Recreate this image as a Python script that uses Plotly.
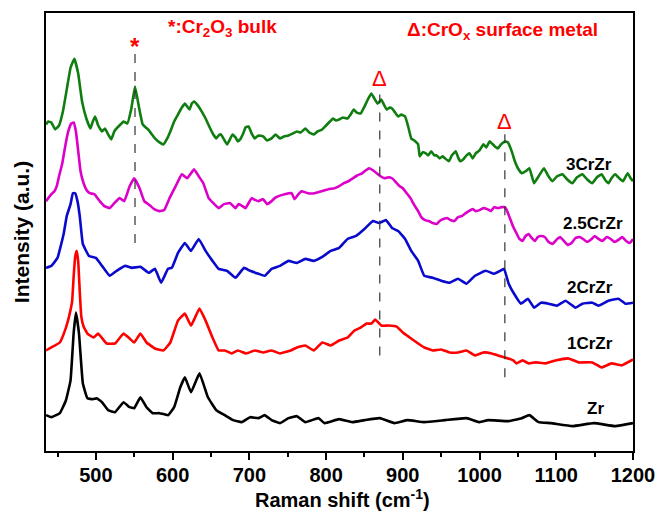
import plotly.graph_objects as go

# ---------------- data ----------------
# Raman shift (cm-1) and stacked intensity (a.u.) for each sample
zr_x = [435, 442, 453, 461, 467, 471, 474, 478, 483, 489, 496, 501, 508, 516, 525, 536, 544, 550, 558, 566,
        574, 583, 594, 602, 610, 616, 624, 635, 646, 657, 668, 679, 690, 701, 712, 720, 729, 740, 751, 762,
        773, 790, 798, 817, 834, 850, 870, 889, 906, 928, 955, 983, 1000, 1011, 1038, 1055, 1065, 1077,
        1093, 1121, 1149, 1177, 1200]
zr_y = [36, 34, 38, 51, 71, 118, 139, 118, 68, 53, 52, 53, 49, 41, 39, 49, 44, 43, 54, 44,
        38, 38, 36, 44, 64, 74, 59, 78, 54, 41, 36, 31, 29, 34, 33, 36, 31, 28, 33, 35,
        29, 33, 28, 32, 29, 31, 33, 28, 31, 29, 31, 33, 29, 31, 30, 33, 36, 29,
        28, 25, 28, 25, 28]

cr1_x = [435, 442, 453, 461, 465, 469, 471, 473, 475, 477, 479, 481, 484, 489, 497, 503, 514, 525, 536, 544,
         550, 558, 566, 577, 588, 597, 607, 616, 624, 635, 643, 652, 660, 668, 677, 685, 696, 707, 718, 729,
         740, 754, 762, 773, 784, 795, 806, 817, 828, 837, 845, 853, 859, 864, 872, 881, 892, 900, 909, 920,
         928, 939, 950, 961, 972, 983, 994, 1005, 1016, 1024, 1033, 1044, 1048, 1056, 1064, 1073, 1086,
         1099, 1116, 1129, 1147, 1159, 1172, 1185, 1200]
cr1_y = [101, 104, 109, 124, 135, 150, 175, 195, 201, 190, 160, 135, 125, 118, 114, 118, 108, 108, 118, 113,
         109, 118, 109, 103, 101, 109, 131, 138, 126, 143, 131, 114, 101, 101, 98, 101, 98, 101, 99, 101,
         98, 101, 104, 106, 101, 109, 106, 111, 114, 121, 124, 128, 128, 132, 126, 126, 125, 119, 114, 108,
         104, 101, 102, 99, 99, 101, 96, 99, 98, 96, 94, 91, 88, 91, 88, 89, 88,
         91, 93, 89, 89, 84, 88, 86, 92]

cr2_x = [435, 442, 450, 458, 462, 467, 470, 473, 476, 479, 483, 491, 500, 508, 518, 527, 538, 547, 558, 569,
         577, 585, 594, 599, 607, 616, 624, 634, 643, 652, 660, 671, 682, 693, 701, 712, 720, 729, 740, 751,
         762, 773, 784, 795, 806, 817, 828, 839, 850, 861, 869, 878, 886, 894, 903, 911, 920, 928, 939, 950,
         961, 972, 983, 994, 1008, 1019, 1027, 1032, 1038, 1045, 1054, 1063, 1071, 1080, 1090, 1101, 1112,
         1125, 1134, 1147, 1155, 1168, 1181, 1190, 1200]
cr2_y = [184, 186, 194, 218, 236, 248, 259, 259, 251, 236, 208, 196, 194, 186, 176, 181, 186, 184, 185, 179,
         183, 169, 183, 184, 199, 209, 201, 213, 201, 191, 183, 181, 174, 184, 181, 178, 176, 183, 186, 191,
         189, 193, 191, 195, 201, 204, 213, 216, 223, 231, 229, 232, 224, 221, 213, 201, 191, 176, 174, 171,
         169, 173, 168, 176, 181, 178, 181, 183, 168, 158, 148, 153, 144, 149, 148, 146, 151,
         144, 148, 149, 146, 151, 153, 148, 149]

cr25_x = [435, 438, 442, 446, 449, 452, 456, 460, 464, 468, 471, 474, 477, 480, 484, 488, 492, 498, 505, 511,
          518, 524, 531, 537, 544, 550, 557, 563, 570, 576, 583, 589, 596, 604, 612, 619, 628, 634, 640, 647,
          653, 660, 667, 675, 682, 686, 691, 695, 703, 708, 712, 718, 723, 729, 733, 738, 746, 755, 759, 764,
          768, 776, 785, 794, 803, 811, 817, 823, 829, 835, 841, 847, 852, 856, 861, 866, 871, 876, 881, 886,
          891, 896, 900, 905, 910, 915, 920, 924, 929, 934, 939, 944, 948, 953, 958, 962, 967, 972, 977, 982,
          986, 991, 995, 1000, 1005, 1010, 1015, 1019, 1024, 1029, 1033, 1036, 1040, 1044, 1048, 1052, 1056,
          1060, 1064, 1068, 1072, 1076, 1080, 1085, 1090, 1095, 1100, 1105, 1110, 1115, 1120, 1125, 1130,
          1135, 1140, 1146, 1150, 1155, 1160, 1166, 1171, 1176, 1181, 1186, 1191, 1196, 1200]
cr25_y = [251, 254, 258, 261, 266, 276, 288, 306, 321, 329, 330, 321, 301, 281, 269, 262, 259, 258, 251, 246,
          244, 249, 254, 251, 266, 274, 264, 251, 247, 243, 241, 242, 254, 266, 278, 274, 283, 276, 269, 254,
          249, 244, 248, 249, 244, 248, 246, 244, 254, 252, 251, 253, 248, 251, 254, 256, 258, 259, 253, 258,
          261, 259, 259, 261, 263, 264, 266, 269, 271, 274, 277, 279, 282, 284, 282, 279, 276, 274, 275, 274,
          270, 266, 264, 259, 254, 247, 241, 235, 232, 231, 229, 228, 231, 233, 234, 232, 231, 235, 236, 239,
          241, 243, 241, 242, 244, 243, 241, 245, 244, 245, 245, 241, 233, 225, 219, 213, 211,
          216, 218, 214, 211, 215, 216, 215, 210, 208, 212, 215, 211, 207, 209, 214, 215,
          213, 210, 213, 216, 213, 211, 215, 213, 210, 212, 215, 211, 209, 213]

cr3_x = [435, 438, 442, 447, 452, 457, 462, 467, 472, 477, 482, 488, 493, 496, 499, 503, 508, 512, 516, 520,
         524, 527, 532, 536, 541, 546, 551, 556, 561, 565, 568, 572, 577, 583, 588, 593, 597, 602, 607, 612,
         616, 619, 622, 625, 628, 633, 638, 643, 649, 653, 657, 660, 663, 667, 671, 674, 678, 682, 685, 688,
         692, 695, 699, 703, 707, 712, 718, 723, 729, 734, 740, 745, 751, 757, 762, 767, 773, 778, 784, 789,
         795, 800, 805, 809, 813, 817, 822, 828, 832, 836, 840, 845, 850, 855, 859, 863, 867, 872, 876, 879,
         883, 886, 890, 894, 898, 903, 907, 911, 915, 920, 922, 926, 930, 933, 937, 941, 944, 948, 952, 955,
         960, 964, 969, 972, 975, 979, 983, 987, 991, 995, 1000, 1005, 1009, 1013, 1016, 1020, 1024, 1028,
         1033, 1037, 1042, 1046, 1050, 1055, 1060, 1065, 1071, 1077, 1084, 1089, 1095, 1101, 1108, 1114,
         1121, 1127, 1134, 1140, 1147, 1153, 1159, 1164, 1168, 1172, 1177, 1182, 1187, 1193, 1197, 1200]
cr3_y = [328, 331, 330, 323, 327, 341, 363, 385, 394, 379, 351, 333, 324, 331, 336, 327, 321, 324, 318, 313,
         321, 324, 328, 331, 329, 343, 366, 346, 328, 325, 323, 319, 314, 310, 308, 314, 321, 331, 338, 345,
         349, 346, 343, 349, 351, 347, 341, 334, 324, 318, 314, 317, 318, 313, 308, 312, 318, 315, 311, 313,
         319, 325, 326, 319, 314, 317, 316, 312, 314, 318, 314, 316, 317, 319, 321, 320, 324, 320, 318, 321,
         323, 327, 331, 334, 332, 333, 335, 334, 338, 343, 340, 339, 346, 354, 359, 354, 349, 353, 347, 343,
         345, 344, 340, 336, 338, 336, 326, 314, 312, 308, 296, 300, 299, 297, 301, 297, 297, 294, 296, 294,
         291, 297, 301, 295, 291, 293, 297, 299, 294, 299, 302, 308, 305, 311, 309, 306, 304, 308,
         311, 310, 301, 291, 284, 279, 281, 284, 269, 276, 284, 277, 271, 276, 278, 273,
         269, 275, 278, 273, 269, 275, 278, 272, 269, 274, 278, 274, 271, 279, 274, 271]

series_names = ["Zr", "1CrZr", "2CrZr", "2.5CrZr", "3CrZr"]
series_x = [zr_x, cr1_x, cr2_x, cr25_x, cr3_x]
series_y = [zr_y, cr1_y, cr2_y, cr25_y, cr3_y]
series_colors = ["#000000", "#FF0000", "#0A0ACD", "#DC00C8", "#0F7D0F"]

x_ticks = [500, 600, 700, 800, 900, 1000, 1100, 1200]
x_minor = [450, 550, 650, 750, 850, 950, 1050, 1150]

bulk_peaks = [551]              # Cr2O3 bulk (*)
surface_peaks = [870, 1033]     # CrOx surface metal (Δ)

# label positions for each curve (x, y in data units)
label_pos = {"3CrZr": (1142, 288), "2.5CrZr": (1148, 229), "2CrZr": (1144, 164),
             "1CrZr": (1144, 108), "Zr": (1151, 43)}

# ---------------- figure ----------------
fig = go.Figure()
for name, xs, ys, col in zip(series_names, series_x, series_y, series_colors):
    fig.add_trace(go.Scatter(x=xs, y=ys, mode="lines", name=name,
                             line=dict(color=col, width=2.6, shape="spline", smoothing=0.3),
                             showlegend=False))

FONT = "Liberation Sans, Arial, sans-serif"

shapes = []
annotations = []
# dashed guide lines
dash_ext = {551: (209, 401), 870: (96, 364), 1033: (74, 321)}
for xv in bulk_peaks + surface_peaks:
    y0, y1 = dash_ext[xv]
    shapes.append(dict(type="line", xref="x", yref="y", x0=xv, x1=xv, y0=y0, y1=y1,
                       line=dict(color="#333333", width=1.2, dash="dash")))

for xv in bulk_peaks:
    annotations.append(dict(x=xv, y=391, xref="x", yref="y", text="*", showarrow=False,
                            yanchor="bottom", font=dict(family=FONT, size=24, color="#FF0000", weight="bold")))
for xv, yv in zip(surface_peaks, [360, 316]):
    annotations.append(dict(x=xv, y=yv, xref="x", yref="y", text="Δ", showarrow=False,
                            yanchor="bottom", yshift=0,
                            font=dict(family=FONT, size=22, color="#FF0000")))

annotations.append(dict(x=(167 - 46) / 592, y=0.965, xref="paper", yref="paper",
                        text="*:Cr<sub>2</sub>O<sub>3</sub> bulk", showarrow=False,
                        xanchor="left", yanchor="middle",
                        font=dict(family=FONT, size=19, color="#FF0000", weight="bold")))
annotations.append(dict(x=(408 - 46) / 592, y=0.96, xref="paper", yref="paper",
                        text="Δ:CrO<sub>x</sub> surface metal", showarrow=False,
                        xanchor="left", yanchor="middle",
                        font=dict(family=FONT, size=19, color="#FF0000", weight="bold")))

for name, (lx, ly) in label_pos.items():
    annotations.append(dict(x=lx, y=ly, xref="x", yref="y", text=name, showarrow=False,
                            xanchor="center", yanchor="middle",
                            font=dict(family=FONT, size=17, color="#000000", weight="bold")))

# x-axis title
annotations.append(dict(x=0.505, y=-0.108, xref="paper", yref="paper",
                        text="Raman shift (cm<sup>-1</sup>)", showarrow=False,
                        xanchor="center", yanchor="middle",
                        font=dict(family=FONT, size=20, color="#000000", weight="bold")))

fig.update_layout(
    width=666, height=513,
    margin=dict(l=46, r=28, t=11, b=62),
    paper_bgcolor="white", plot_bgcolor="white",
    shapes=shapes, annotations=annotations,
    font=dict(family=FONT, color="black"),
)
fig.update_xaxes(
    range=[435, 1200], tickvals=x_ticks, ticks="outside", ticklen=7, tickwidth=2,
    tickcolor="black", showline=True, linecolor="black", linewidth=2, mirror=True,
    showgrid=False, zeroline=False, ticklabelstandoff=-2,
    tickfont=dict(family=FONT, size=20, weight="bold"),
    minor=dict(tickvals=x_minor, ticks="outside", ticklen=4, tickwidth=2, tickcolor="black"),
)
fig.update_yaxes(
    range=[0, 440], showticklabels=False, ticks="", showline=True, linecolor="black",
    linewidth=2, mirror=True, showgrid=False, zeroline=False,
    title=dict(text="Intensity (a.u.)", standoff=9,
               font=dict(family=FONT, size=21, weight="bold")),
)

fig.write_html("out.html", config={"displayModeBar": False},
               post_script="document.body.style.margin='0';document.body.style.overflow='hidden';")
